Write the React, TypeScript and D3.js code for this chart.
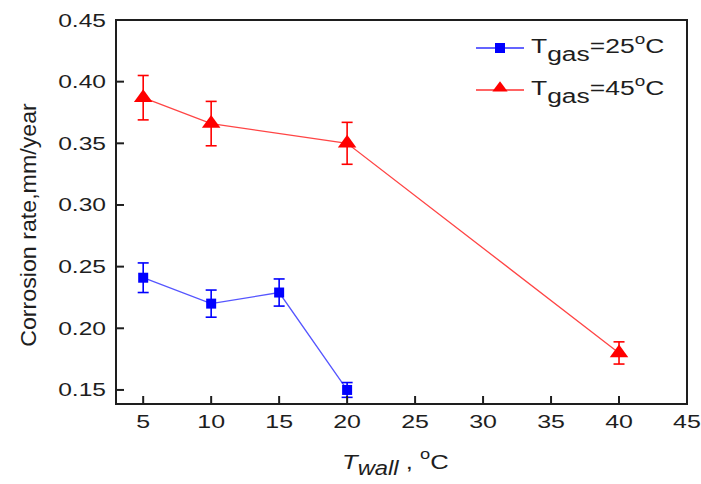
import React from "react";
import * as d3 from "d3";

const tWall25 = [5, 10, 15, 20];
const rate25 = [0.241, 0.22, 0.229, 0.15];
const err25 = [0.012, 0.011, 0.011, 0.006];

const tWall45 = [5, 10, 20, 40];
const rate45 = [0.387, 0.366, 0.35, 0.18];
const err45 = [0.018, 0.018, 0.017, 0.009];

const xTicks = [5, 10, 15, 20, 25, 30, 35, 40, 45];
const yTicks = [0.15, 0.2, 0.25, 0.3, 0.35, 0.4, 0.45];

const W = 701;
const H = 484;
const L = 116, R = 687, T = 20, B = 404;

const FONT = "'Liberation Sans', Arial, Helvetica, sans-serif";
const INK = "#1e1e1e";

export default function App() {
  const x = d3.scaleLinear().domain([3, 45]).range([L, R]);
  const y = d3.scaleLinear().domain([0.1386, 0.45]).range([B, T]);
  const line = d3.line<[number, number]>().x((d) => x(d[0])).y((d) => y(d[1]));

  const s25 = tWall25.map((t, i) => ({ t, v: rate25[i], e: err25[i] }));
  const s45 = tWall45.map((t, i) => ({ t, v: rate45[i], e: err45[i] }));

  const tri = d3.symbol().type(d3.symbolTriangle).size(95)() as string;
  const triSmall = d3.symbol().type(d3.symbolTriangle).size(60)() as string;

  const errBar = (d: { t: number; v: number; e: number }, color: string, k: string) => {
    const cx = x(d.t);
    const y1 = y(d.v + d.e);
    const y2 = y(d.v - d.e);
    return (
      <g key={k} stroke={color} strokeWidth={1.6}>
        <line x1={cx} x2={cx} y1={y1} y2={y2} />
        <line x1={cx - 5.5} x2={cx + 5.5} y1={y1} y2={y1} />
        <line x1={cx - 5.5} x2={cx + 5.5} y1={y2} y2={y2} />
      </g>
    );
  };

  return (
    <svg
      width={W}
      height={H}
      style={{ position: "absolute", left: 0, top: 0, background: "#fff" }}
      fontFamily={FONT}
    >
      <rect x={0} y={0} width={W} height={H} fill="#fff" />

      {/* series lines */}
      <path d={line(s25.map((d) => [d.t, d.v]) as [number, number][]) || ""} fill="none" stroke="#5555ff" strokeWidth={1.3} />
      <path d={line(s45.map((d) => [d.t, d.v]) as [number, number][]) || ""} fill="none" stroke="#ff4545" strokeWidth={1.3} />

      {/* error bars */}
      {s25.map((d, i) => errBar(d, "#0000ff", "e25" + i))}
      {s45.map((d, i) => errBar(d, "#ff0000", "e45" + i))}

      {/* markers */}
      {s25.map((d, i) => (
        <rect key={"m25" + i} x={x(d.t) - 5} y={y(d.v) - 5} width={10} height={10} fill="#0000ff" />
      ))}
      {s45.map((d, i) => (
        <path key={"m45" + i} d={tri} transform={`translate(${x(d.t)},${y(d.v)}) scale(1.25,1)`} fill="#ff0000" />
      ))}

      {/* frame */}
      <rect x={L} y={T} width={R - L} height={B - T} fill="none" stroke={INK} strokeWidth={2} />

      {/* ticks */}
      {xTicks.map((t) => (
        <g key={"xt" + t}>
          <line x1={x(t)} x2={x(t)} y1={B} y2={B - 8} stroke={INK} strokeWidth={2} />
          <text
            transform={`translate(${x(t)},${B + 24}) scale(1.35,1)`}
            textAnchor="middle"
            fontSize={18.5}
            fill={INK}
          >
            {t}
          </text>
        </g>
      ))}
      {yTicks.map((t) => (
        <g key={"yt" + t}>
          <line x1={L} x2={L + 8} y1={y(t)} y2={y(t)} stroke={INK} strokeWidth={2} />
          <text
            transform={`translate(${L - 10},${y(t) + 6.5}) scale(1.33,1)`}
            textAnchor="end"
            fontSize={18.5}
            fill={INK}
          >
            {t.toFixed(2)}
          </text>
        </g>
      ))}

      {/* y axis label */}
      <text
        transform={`translate(36,225) rotate(-90) scale(1.16,1.08)`}
        textAnchor="middle"
        fontSize={20}
        fill={INK}
      >
        Corrosion rate,mm/year
      </text>

      {/* x axis label */}
      <g transform={`translate(342,469) scale(1.22,1)`}>
        <text fontSize={21} fill={INK}>
          <tspan fontStyle="italic">T</tspan>
          <tspan fontStyle="italic" fontSize={19.5} dy={6}>wall</tspan>
          <tspan dy={-6}>{" , "}</tspan>
          <tspan fontSize={15} dy={-10}>o</tspan>
          <tspan dy={10}>C</tspan>
        </text>
      </g>

      {/* legend */}
      <g>
        <line x1={476} x2={524} y1={48} y2={48} stroke="#3030ff" strokeWidth={1.4} />
        <rect x={495} y={43} width={10} height={10} fill="#0000ff" />
        <line x1={476} x2={524} y1={90} y2={90} stroke="#ff3030" strokeWidth={1.4} />
        <path d={triSmall} transform={`translate(500,88) scale(1.3,1)`} fill="#ff0000" />
        {[
          { yy: 53, label: "25" },
          { yy: 95, label: "45" },
        ].map((r) => (
          <g key={r.label} transform={`translate(531,${r.yy}) scale(1.26,1)`}>
            <text fontSize={21} fill={INK}>
              <tspan>T</tspan>
              <tspan dy={8}>gas</tspan>
              <tspan dy={-8}>{"=" + r.label}</tspan>
              <tspan fontSize={15} dy={-9}>o</tspan>
              <tspan dy={9}>C</tspan>
            </text>
          </g>
        ))}
      </g>
    </svg>
  );
}
